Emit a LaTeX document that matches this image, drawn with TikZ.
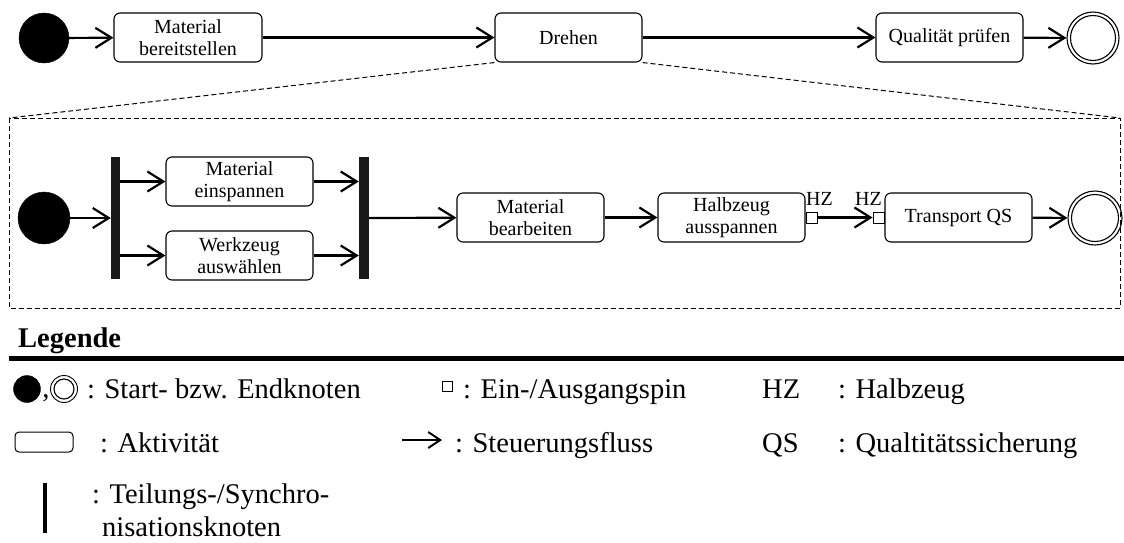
\documentclass[tikz,border=0pt]{standalone}
\usepackage{fontspec}
\setmainfont{Liberation Serif}
\usetikzlibrary{arrows.meta,positioning,calc}

\tikzset{
  act/.style={draw, rounded corners=6pt, line width=1.1pt, inner sep=0pt,
    minimum width=147pt, minimum height=49pt, align=center,
    font=\fontsize{20}{22}\selectfont},
  startnode/.style={circle, fill=black, draw=black, inner sep=0pt, minimum size=#1},
  endnode/.style={circle, draw, line width=1.1pt, inner sep=0pt, minimum size=#1,
    path picture={\draw[line width=1.1pt] (path picture bounding box.center) circle ({#1/2-3.5pt});}},
  barnode/.style={rectangle, fill=black!90, inner sep=0pt, minimum width=9pt, minimum height=122pt},
  pinbox/.style={rectangle, draw, fill=white, line width=0.9pt, inner sep=0pt, minimum size=11pt},
  flow/.style={line width=2.2pt, -{Straight Barb[length=16pt,width=20pt]}},
  zoomline/.style={line width=1pt, dash pattern=on 5pt off 3pt},
  lbl/.style={inner sep=0pt, anchor=base west, font=\fontsize{28.5}{32}\selectfont},
  pinlbl/.style={inner sep=0pt, anchor=base, font=\fontsize{20}{22}\selectfont}
}

\begin{document}
\begin{tikzpicture}[x=1pt, y=-1pt]
\useasboundingbox (0,0) rectangle (1124,542);

% ---------- overview process ----------
\node[startnode=50pt] (s0) at (44,38) {};
\node[act, minimum width=148pt] (mb) at (188,37.5) {Material\\bereitstellen};
\node[act] (dr) at (568.5,37.5) {Drehen};
\node[act] (qp) at (949.5,37.5) {Qualität prüfen};
\node[endnode=52pt] (e0) at (1093,38) {};

\draw[flow] (s0) -- (mb);
\draw[flow] (mb) -- (dr);
\draw[flow] (dr) -- (qp);
\draw[flow] (qp) -- (e0);

% ---------- refinement of "Drehen" ----------
\coordinate (fl) at (9,118);
\coordinate (fr) at (1120,118);
\coordinate (fb) at (1120,308);
\draw[zoomline] (fl) rectangle (fb);
\draw[zoomline] (dr.south west) -- (fl);
\draw[zoomline] (dr.south east) -- (fr);

\node[startnode=52pt] (s1) at (44,218) {};
\node[barnode] (fork) at (115.5,218) {};
\node[act] (me) at (239.5,181.5) {Material\\einspannen};
\node[act] (wa) at (239.5,255.5) {Werkzeug\\auswählen};
\node[barnode, minimum width=10pt] (join) at (364,218) {};
\node[act] (mbe) at (530.5,217.5) {Material\\bearbeiten};
\node[act] (ha) at (731.5,217.5) {Halbzeug\\ausspannen};
\node[pinbox, anchor=west] (pout) at (ha.east) {};
\node[act] (tq) at (958.5,217.5) {Transport QS};
\node[pinbox, anchor=east] (pin) at (tq.west) {};
\node[endnode=54pt] (e1) at (1095,218) {};

\node[pinlbl, anchor=base west] (hz1) at (806,205) {HZ};
\node[pinlbl, anchor=base east] (hz2) at (882,205) {HZ};

\draw[flow] (s1) -- (fork);
\draw[flow] (fork.east |- me.west) -- (me.west);
\draw[flow] (fork.east |- wa.west) -- (wa.west);
\draw[flow] (me.east) -- (join.west |- me.east);
\draw[flow] (wa.east) -- (join.west |- wa.east);
\draw[flow] (join) -- (mbe);
\draw[flow] (mbe) -- (ha);
\draw[flow] (pout) -- (pin);
\draw[flow] (tq) -- (e1);

% ---------- legend ----------
\node[inner sep=0pt, anchor=base west, font=\fontsize{28.5}{32}\selectfont\bfseries] (lgtitle) at (18,347) {Legende};
\coordinate (rl) at (9,358.5);
\coordinate (rr) at (1124,358.5);
\draw[line width=4.5pt] (rl) -- (rr);

% row 1
\node[startnode=27pt] (lgs) at (27,389) {};
\node[inner sep=0pt, anchor=base, font=\fontsize{28.5}{32}\selectfont] (lgc) at (46,397) {,};
\node[endnode=27pt, line width=0.9pt] (lge) at (64,389) {};
\node[lbl] (t1) at (87,398) {: Start- bzw. Endknoten};
\node[pinbox, minimum size=10pt] (lgp) at (447,386) {};
\node[lbl] (t2) at (463,398) {: Ein-/Ausgangspin};
\node[lbl] (t3) at (762,398) {HZ};
\node[lbl] (t4) at (838,398) {: Halbzeug};

% row 2
\node[draw, rounded corners=4pt, line width=1pt, minimum width=58pt, minimum height=20pt, inner sep=0pt] (lga) at (44,442) {};
\node[lbl] (t5) at (100,452) {: Aktivität};
\coordinate (la1) at (402,440);
\coordinate (la2) at (442,440);
\draw[line width=2pt, -{Straight Barb[length=12pt,width=16pt]}] (la1) -- (la2);
\node[lbl] (t6) at (455,452) {: Steuerungsfluss};
\node[lbl] (t7) at (762,452) {QS};
\node[lbl] (t8) at (838,452) {: Qualtitätssicherung};

% row 3
\node[rectangle, fill=black, inner sep=0pt, minimum width=4.5pt, minimum height=50pt] (lgb) at (45,507.5) {};
\node[lbl] (t9) at (92,503) {: Teilungs-/Synchro-};
\node[lbl] (t10) at (102,536) {nisationsknoten};
\end{tikzpicture}
\end{document}
